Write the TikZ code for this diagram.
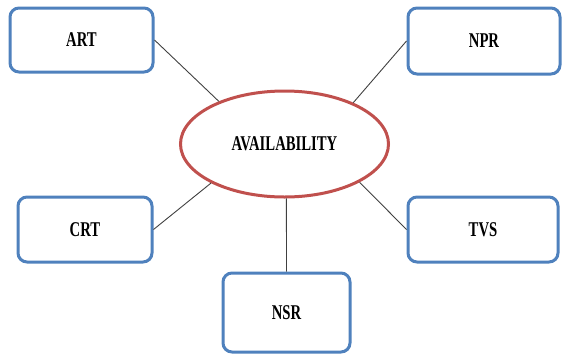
\documentclass[tikz,border=0pt]{standalone}
\usepackage{fontspec}
\setmainfont{Liberation Serif}
\newfontfamily\condfont[FakeStretch=0.7]{Liberation Serif}
\usetikzlibrary{shapes.geometric}
\definecolor{boxblue}{HTML}{4F81BD}
\definecolor{ellred}{HTML}{C0504D}
\definecolor{linegray}{HTML}{404040}
\tikzset{
  x=1pt, y=-1pt,
  lbl/.style={font=\condfont\bfseries\fontsize{21}{25}\selectfont, text=black},
  bluebox/.style={lbl, draw=boxblue, line width=3pt, rounded corners=9pt, fill=white, inner sep=0pt},
  redell/.style={lbl, ellipse, draw=ellred, line width=3pt, fill=white, inner sep=0pt},
  conn/.style={draw=linegray, line width=0.9pt}
}
\begin{document}
\begin{tikzpicture}
\useasboundingbox (0,0) rectangle (564,354);
\node[bluebox, minimum width=143pt, minimum height=64pt] (art) at (81.5,40) {ART};
\node[bluebox, minimum width=152pt, minimum height=66pt] (npr) at (484,41) {NPR};
\node[bluebox, minimum width=134pt, minimum height=65pt] (crt) at (85,229.5) {CRT};
\node[bluebox, minimum width=150pt, minimum height=65pt] (tvs) at (483,229.5) {TVS};
\node[bluebox, minimum width=127pt, minimum height=79pt] (nsr) at (286.5,312.5) {NSR};
\node[redell, minimum width=208pt, minimum height=106pt] (ell) at (284.5,144) {AVAILABILITY};
\draw[conn] (art.east) -- (ell.147);
\draw[conn] (npr.west) -- (ell.31);
\draw[conn] (crt.east) -- (ell.208);
\draw[conn] (tvs.west) -- (ell.-27);
\draw[conn] (ell.272) -- (nsr.north);
\end{tikzpicture}
\end{document}
